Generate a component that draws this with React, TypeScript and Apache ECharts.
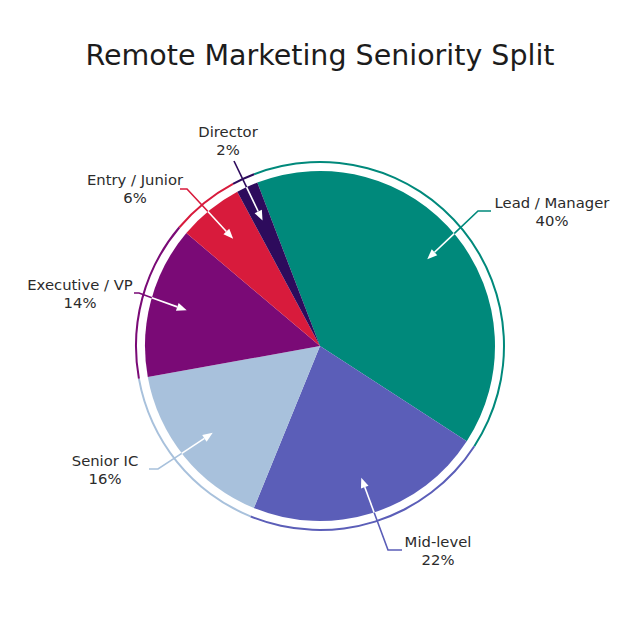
import React, { useEffect, useRef } from "react";
import * as echarts from "echarts";

const categories = ["Lead / Manager", "Mid-level", "Senior IC", "Executive / VP", "Entry / Junior", "Director"];
const shares = [40, 22, 16, 14, 6, 2];
const colors = ["#00897B", "#5B5EB8", "#A8C1DC", "#7A0A76", "#D81B3C", "#2D0B5C"];

const TITLE = "Remote Marketing Seniority Split";
const FONT = "'DejaVu Sans', 'Noto Sans', sans-serif";

const CX = 320;
const CY = 346;
const R = 175;
const START_ANGLE = 111; // ECharts degrees (counter-clockwise from 3 o'clock)
const TIP_R = 138;

// Label annotation layout (label block centre, connector start, elbow)
const labelLayout: Record<string, { x: number; y: number; start: number[]; elbow: number[] }> = {
  "Lead / Manager": { x: 552, y: 211, start: [491, 211], elbow: [478, 211] },
  "Mid-level": { x: 438, y: 550, start: [402, 550], elbow: [388, 550] },
  "Senior IC": { x: 105, y: 469, start: [149, 469], elbow: [158, 469] },
  "Executive / VP": { x: 80, y: 293, start: [134, 293], elbow: [139, 293] },
  "Entry / Junior": { x: 135, y: 188, start: [180, 189], elbow: [187, 189] },
  "Director": { x: 228, y: 140, start: [234, 161], elbow: [234, 161] },
};

function buildAnnotations() {
  const total = shares.reduce((a, b) => a + b, 0);
  const els: any[] = [];
  let cum = 0;
  categories.forEach((name, i) => {
    const v = shares[i];
    const midFrac = (cum + v / 2) / total;
    cum += v;
    const theta = ((90 - START_ANGLE) + 360 * midFrac) * Math.PI / 180;
    const tip = [CX + TIP_R * Math.sin(theta), CY - TIP_R * Math.cos(theta)];
    const lay = labelLayout[name];
    const e = lay.elbow;
    const dx = tip[0] - e[0];
    const dy = tip[1] - e[1];
    const fx = e[0] - CX;
    const fy = e[1] - CY;
    const a = dx * dx + dy * dy;
    const b = 2 * (fx * dx + fy * dy);
    const c = fx * fx + fy * fy - R * R;
    const disc = Math.max(0, b * b - 4 * a * c);
    let t = (-b - Math.sqrt(disc)) / (2 * a);
    if (t < 0) t = 0;
    const cross = [e[0] + t * dx, e[1] + t * dy];
    const len = Math.sqrt(a);
    const ux = dx / len;
    const uy = dy / len;
    const L = 10;
    const W = 8;
    const base = [tip[0] - ux * L, tip[1] - uy * L];
    const color = colors[i];
    els.push({
      type: "polyline",
      z: 100,
      shape: { points: [lay.start, e, cross] },
      style: { stroke: color, lineWidth: 1.6, fill: null },
    });
    els.push({
      type: "line",
      z: 100,
      shape: { x1: cross[0], y1: cross[1], x2: base[0], y2: base[1] },
      style: { stroke: "#ffffff", lineWidth: 1.6 },
    });
    els.push({
      type: "polygon",
      z: 100,
      shape: {
        points: [
          tip,
          [base[0] - uy * W / 2, base[1] + ux * W / 2],
          [base[0] + uy * W / 2, base[1] - ux * W / 2],
        ],
      },
      style: { fill: "#ffffff" },
    });
    els.push({
      type: "text",
      z: 100,
      x: lay.x,
      y: lay.y,
      style: {
        text: name + "\n" + v + "%",
        align: "center",
        verticalAlign: "middle",
        fontSize: 14.8,
        lineHeight: 18,
        fill: "#2b2b2b",
        fontFamily: FONT,
      },
    });
  });
  return els;
}

export default function App() {
  const ref = useRef<HTMLDivElement>(null);
  useEffect(() => {
    if (!ref.current) return;
    const chart = echarts.init(ref.current, undefined, { renderer: "svg" });
    const data = categories.map((name, i) => ({ name, value: shares[i], itemStyle: { color: colors[i] } }));
    chart.setOption({
      animation: false,
      backgroundColor: "#ffffff",
      title: {
        text: TITLE,
        left: "center",
        top: 36,
        textStyle: { fontSize: 28.5, fontWeight: "normal", color: "#1c1c1c", fontFamily: FONT },
      },
      series: [
        {
          type: "pie",
          center: [CX, CY],
          radius: [0, R],
          startAngle: START_ANGLE,
          clockwise: true,
          label: { show: false },
          labelLine: { show: false },
          silent: true,
          data,
        },
        {
          type: "pie",
          center: [CX, CY],
          radius: [183, 185],
          startAngle: START_ANGLE,
          clockwise: true,
          label: { show: false },
          labelLine: { show: false },
          silent: true,
          data,
        },
      ],
      graphic: buildAnnotations(),
    });
    return () => chart.dispose();
  }, []);
  return <div ref={ref} style={{ position: "fixed", left: 0, top: 0, width: 640, height: 640 }} />;
}
